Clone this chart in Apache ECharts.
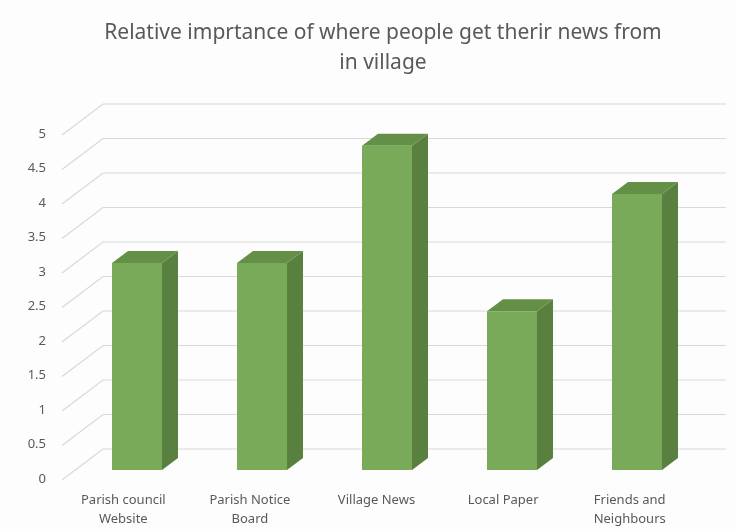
<!DOCTYPE html>
<html>
<head>
<meta charset="utf-8">
<script src="https://cdn.jsdelivr.net/npm/echarts@6/dist/echarts.min.js"></script>
<style>
  html, body { margin: 0; padding: 0; background: #fdfdfd; }
  #chart { width: 736px; height: 529px; }
</style>
</head>
<body>
<div id="chart"></div>
<script>
// Chart data
const chartTitle = 'Relative imprtance of where people get therir news from\nin village';
const categories = ['Parish council\nWebsite', 'Parish Notice\nBoard', 'Village News', 'Local Paper', 'Friends and\nNeighbours'];
const scores = [3, 3, 4.7, 2.3, 4];
const tickValues = [0, 0.5, 1, 1.5, 2, 2.5, 3, 3.5, 4, 4.5, 5];

// Perspective offsets for the pseudo-3D look
const WALL_DX = 41, WALL_DY = -31;   // front edge of the floor -> back wall
const BAR_DX = 16, BAR_DY = -12;     // depth of each column
const BAR_WIDTH = 50;

const colors = {
  text: '#595959',
  grid: '#d9d9d9',
  front: '#78aa59',
  top: '#648f47',
  side: '#5a803f'
};

const chart = echarts.init(document.getElementById('chart'), null, { renderer: 'canvas' });

// Gridlines: a diagonal across the floor/side then a horizontal line along the back wall
function renderWall(params, api) {
  const v = api.value(1);
  const p = api.coord([0, v]);
  const x0 = params.coordSys.x + 2;
  const y0 = p[1] + 1;
  return {
    type: 'polyline',
    shape: { points: [[x0, y0], [x0 + WALL_DX, y0 + WALL_DY], [api.getWidth() - 10, y0 + WALL_DY]] },
    style: { stroke: colors.grid, lineWidth: 1.2, fill: null },
    silent: true
  };
}

// Columns: front face, top face and right side face
function renderBar(params, api) {
  const idx = api.value(0);
  const top = api.coord([idx, api.value(1)]);
  const base = api.coord([idx, 0]);
  const x0 = top[0] - BAR_WIDTH / 2;
  const x1 = top[0] + BAR_WIDTH / 2;
  const yt = top[1];
  const yb = base[1];
  return {
    type: 'group',
    children: [
      {
        type: 'polygon',
        shape: { points: [[x1, yt], [x1 + BAR_DX, yt + BAR_DY], [x1 + BAR_DX, yb + BAR_DY], [x1, yb]] },
        style: { fill: colors.side }
      },
      {
        type: 'polygon',
        shape: { points: [[x0, yt], [x1, yt], [x1 + BAR_DX, yt + BAR_DY], [x0 + BAR_DX, yt + BAR_DY]] },
        style: { fill: colors.top }
      },
      {
        type: 'rect',
        shape: { x: x0, y: yt, width: BAR_WIDTH, height: yb - yt },
        style: { fill: colors.front }
      }
    ]
  };
}

const option = {
  backgroundColor: '#fdfdfd',
  animation: false,
  title: {
    text: chartTitle,
    left: 378,
    textAlign: 'center',
    top: 13,
    textStyle: {
      fontFamily: 'Noto Sans',
      fontSize: 21,
      fontWeight: 'normal',
      lineHeight: 30,
      color: colors.text
    }
  },
  grid: [
    // front edge: axis labels and category labels
    { left: 60, right: 43, top: 134, bottom: 50 },
    // columns
    { left: 74.5, right: 36.5, top: 125, bottom: 59 }
  ],
  xAxis: [
    {
      type: 'category',
      gridIndex: 0,
      data: categories,
      axisLine: { show: false },
      axisTick: { show: false },
      axisLabel: {
        interval: 0,
        margin: 12,
        fontFamily: 'Noto Sans',
        fontSize: 13,
        lineHeight: 19,
        color: colors.text
      }
    },
    {
      type: 'category',
      gridIndex: 1,
      data: categories,
      show: false
    }
  ],
  yAxis: [
    {
      type: 'value',
      gridIndex: 0,
      min: 0,
      max: 5,
      interval: 0.5,
      axisLine: { show: false },
      axisTick: { show: false },
      splitLine: { show: false },
      axisLabel: {
        margin: 14,
        fontFamily: 'Noto Sans',
        fontSize: 13,
        color: colors.text
      }
    },
    {
      type: 'value',
      gridIndex: 1,
      min: 0,
      max: 5,
      show: false
    }
  ],
  series: [
    {
      type: 'custom',
      name: 'gridlines',
      xAxisIndex: 0,
      yAxisIndex: 0,
      z: 1,
      silent: true,
      renderItem: renderWall,
      data: tickValues.map(v => [0, v])
    },
    {
      type: 'custom',
      name: 'Score',
      xAxisIndex: 1,
      yAxisIndex: 1,
      z: 2,
      renderItem: renderBar,
      data: scores.map((v, i) => [i, v])
    }
  ]
};

chart.setOption(option);
</script>
</body>
</html>
